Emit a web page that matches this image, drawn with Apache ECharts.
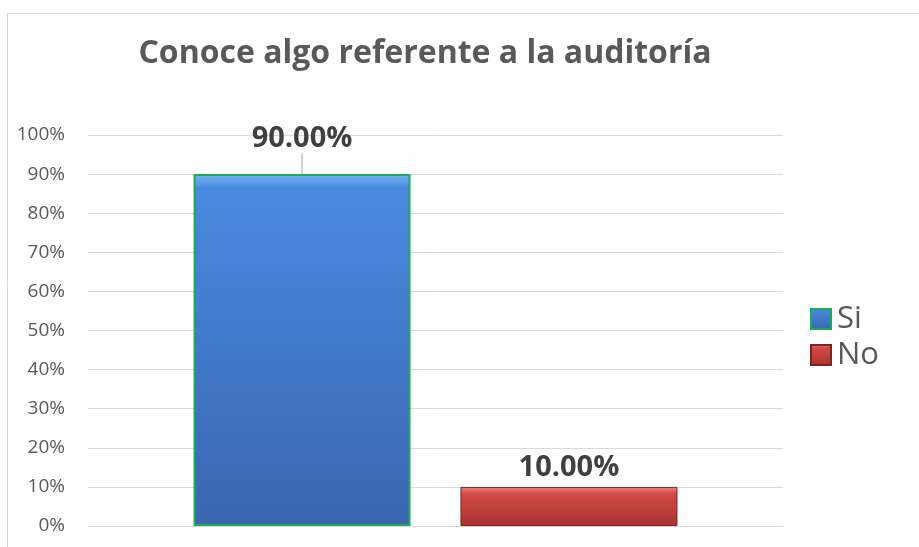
<!DOCTYPE html>
<html>
<head>
<meta charset="utf-8">
<script src="https://cdn.jsdelivr.net/npm/echarts@6/dist/echarts.min.js"></script>
<style>
  html, body { margin: 0; padding: 0; background: #fff; }
  #chart { width: 919px; height: 547px; }
</style>
</head>
<body>
<div id="chart"></div>
<script>
// datos del gráfico
var titulo = "Conoce algo referente a la auditoría";
var respuestas = ["Si", "No"];
var porcentajes = [90, 10];
var ejeY = { min: 0, max: 100, interval: 10 };

var myChart = echarts.init(document.getElementById("chart"));

// estilos de las barras (relleno con degradado + borde)
var estilos = {
  Si: {
    color: new echarts.graphic.LinearGradient(0, 0, 0, 1, [
      { offset: 0, color: "#78b4f4" },
      { offset: 0.04, color: "#4a8ae0" },
      { offset: 1, color: "#3a66b0" }
    ]),
    borderColor: "#1faa55",
    borderWidth: 2
  },
  No: {
    color: new echarts.graphic.LinearGradient(0, 0, 0, 1, [
      { offset: 0, color: "#f08080" },
      { offset: 0.18, color: "#d24a47" },
      { offset: 1, color: "#a8332f" }
    ]),
    borderColor: "#7a2523",
    borderWidth: 1
  }
};

var series = respuestas.map(function (nombre, i) {
  var s = {
    name: nombre,
    type: "bar",
    data: [porcentajes[i]],
    barWidth: 217,
    barGap: "23%",
    itemStyle: estilos[nombre],
    label: {
      show: true,
      position: "top",
      distance: 5,
      fontFamily: "Open Sans",
      fontWeight: "bold",
      fontSize: 29,
      color: "#404040",
      formatter: function (p) { return p.value.toFixed(2) + "%"; }
    }
  };
  if (i === 0) {
    // etiqueta desplazada hacia arriba con línea guía
    s.labelLayout = { dy: -16 };
    s.labelLine = { show: true, lineStyle: { color: "#a6a6a6", width: 1 } };
  }
  return s;
});

var option = {
  backgroundColor: "#fff",
  animation: false,
  title: {
    text: titulo,
    left: 420,
    textAlign: "center",
    top: 33,
    textStyle: {
      fontFamily: "Open Sans",
      fontWeight: "bold",
      fontSize: 32,
      color: "#595959"
    }
  },
  legend: {
    orient: "vertical",
    left: 805,
    top: 297,
    itemWidth: 20,
    itemHeight: 20,
    itemGap: 2,
    icon: "rect",
    textStyle: {
      fontFamily: "Open Sans",
      fontSize: 31,
      lineHeight: 34,
      color: "#595959",
      padding: [0, 0, 0, 1]
    },
    data: respuestas
  },
  grid: {
    left: 88,
    right: 136,
    top: 135,
    bottom: 21,
    containLabel: false
  },
  xAxis: {
    type: "category",
    data: [""],
    axisLine: { lineStyle: { color: "#d9d9d9" } },
    axisTick: { show: false },
    axisLabel: { show: false }
  },
  yAxis: {
    type: "value",
    min: ejeY.min,
    max: ejeY.max,
    interval: ejeY.interval,
    axisLine: { show: false },
    axisTick: { show: false },
    splitLine: { lineStyle: { color: "#d9d9d9", width: 1 } },
    axisLabel: {
      margin: 23,
      fontFamily: "Open Sans",
      fontSize: 19,
      color: "#595959",
      formatter: "{value}%"
    }
  },
  graphic: [{
    type: "rect",
    shape: { x: 7.5, y: 13.5, width: 930, height: 560 },
    style: { fill: "none", stroke: "#d9d9d9", lineWidth: 1 },
    silent: true,
    z: -1
  }],
  series: series
};

myChart.setOption(option);
</script>
</body>
</html>
